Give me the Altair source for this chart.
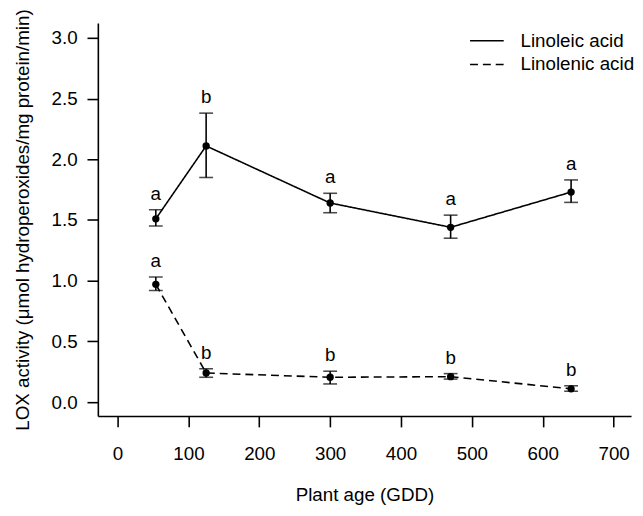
import altair as alt
import pandas as pd

gdd = [54, 125, 300, 470, 640]
series_names = ["Linoleic acid", "Linolenic acid"]
linoleic_mean = [1.51, 2.11, 1.64, 1.44, 1.73]
linoleic_low = [1.45, 1.85, 1.56, 1.35, 1.645]
linoleic_high = [1.585, 2.38, 1.72, 1.54, 1.83]
linoleic_letters = ["a", "b", "a", "a", "a"]
linolenic_mean = [0.97, 0.24, 0.205, 0.21, 0.11]
linolenic_low = [0.92, 0.205, 0.15, 0.19, 0.09]
linolenic_high = [1.03, 0.275, 0.255, 0.235, 0.135]
linolenic_letters = ["a", "b", "b", "b", "b"]

x_ticks = [0, 100, 200, 300, 400, 500, 600, 700]
y_ticks = [0.0, 0.5, 1.0, 1.5, 2.0, 2.5, 3.0]

rows = []
for name, m, lo, hi, let in [
    (series_names[0], linoleic_mean, linoleic_low, linoleic_high, linoleic_letters),
    (series_names[1], linolenic_mean, linolenic_low, linolenic_high, linolenic_letters),
]:
    for g, mv, l, h, t in zip(gdd, m, lo, hi, let):
        rows.append({"gdd": g, "series": name, "mean": mv, "low": l, "high": h, "letter": t})
df = pd.DataFrame(rows)

FONT = "Liberation Sans"
FS = 19
W = 540
H = 398

xs = alt.Scale(domain=[-27.8, -27.8 + W / 0.7177], nice=False, zero=False)
ys = alt.Scale(domain=[-0.114, 3.122], nice=False, zero=False)

x_enc = alt.X("gdd:Q", scale=xs, title="Plant age (GDD)",
              axis=alt.Axis(values=x_ticks, format="d", grid=False))
y_enc = alt.Y("mean:Q", scale=ys, title="LOX activity (μmol hydroperoxides/mg protein/min)",
              axis=alt.Axis(values=y_ticks, format=".1f", grid=False))

base = alt.Chart(df)

lines = base.mark_line(color="black", strokeWidth=1.6).encode(
    x=x_enc,
    y=y_enc,
    strokeDash=alt.StrokeDash(
        "series:N",
        scale=alt.Scale(domain=series_names, range=[[1, 0], [8, 5]]),
        legend=alt.Legend(
            title=None, orient="none", legendX=382, legendY=6,
            symbolType="M-1.55,0H1.55", symbolSize=484, symbolStrokeWidth=1.6,
            symbolStrokeColor="black", symbolFillColor="transparent",
            labelFont=FONT, labelFontSize=FS,
            labelColor="black", labelOffset=22, rowPadding=2,
        ),
    ),
)

rules = base.mark_rule(color="black", strokeWidth=1.6).encode(
    x="gdd:Q", y="low:Q", y2="high:Q"
)
caps_lo = base.mark_tick(color="black", orient="horizontal", size=14, thickness=1.6).encode(
    x="gdd:Q", y="low:Q"
)
caps_hi = base.mark_tick(color="black", orient="horizontal", size=14, thickness=1.6).encode(
    x="gdd:Q", y="high:Q"
)
points = base.mark_circle(color="black", opacity=1, size=55).encode(
    x="gdd:Q", y="mean:Q"
)
letters = base.mark_text(font=FONT, fontSize=FS, color="black", baseline="alphabetic",
                         align="center", dy=-10).encode(
    x="gdd:Q", y="high:Q", text="letter:N"
)

chart = alt.layer(lines, rules, caps_lo, caps_hi, points, letters).properties(
    width=W, height=H,
    autosize=alt.AutoSizeParams(type="none"),
    padding={"left": 91, "top": 12, "right": 4, "bottom": 94},
).configure_view(stroke=None).configure_axis(
    labelFont=FONT, titleFont=FONT, labelFontSize=FS, titleFontSize=FS,
    labelColor="black", titleColor="black", titleFontWeight="normal",
    domainColor="black", tickColor="black", domainWidth=1.6, tickWidth=1.6,
    tickSize=11,
).configure_axisY(
    labelPadding=10, titlePadding=19,
).configure_axisX(
    labelPadding=18, titlePadding=23,
)

chart.save("out.html", embed_options={"renderer": "svg", "actions": False})
